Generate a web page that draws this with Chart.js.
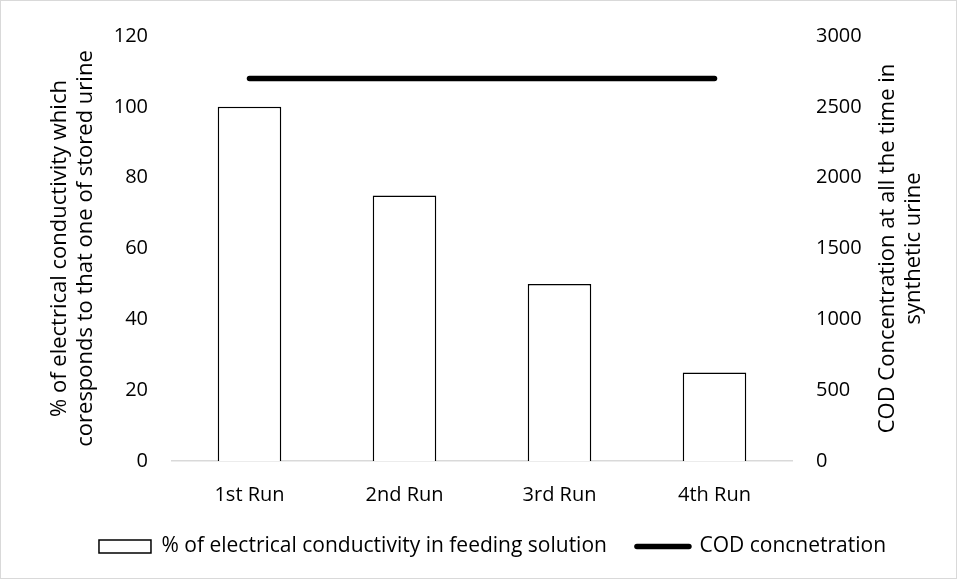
<!DOCTYPE html>
<html>
<head>
<meta charset="utf-8">
<script src="https://cdn.jsdelivr.net/npm/chart.js@4"></script>
<style>
  html, body { margin: 0; padding: 0; background: #fff; }
  #wrap { position: relative; width: 957px; height: 579px; }
  #frame { position: absolute; left: 0; top: 0; width: 955px; height: 577px; border: 1px solid #d9d9d9; pointer-events: none; }
</style>
</head>
<body>
<div id="wrap">
  <canvas id="myChart" width="957" height="579"></canvas>
  <div id="frame"></div>
</div>
<script>
const runs = ['1st Run', '2nd Run', '3rd Run', '4th Run'];
const conductivity = [100, 75, 50, 25];
const codConcentration = [2700, 2700, 2700, 2700];
const leftTitle = ['% of electrical conductivity which', 'coresponds to that one of stored urine'];
const rightTitle = ['COD Concentration at all the time in', 'synthetic urine'];

const FONT = "'Open Sans', sans-serif";

// right axis title reads bottom-to-top like the left one
const rightTitlePlugin = {
  id: 'rightTitle',
  afterDraw(chart) {
    const ctx = chart.ctx;
    const area = chart.chartArea;
    ctx.save();
    ctx.translate(888, (area.top + area.bottom) / 2);
    ctx.rotate(-Math.PI / 2);
    ctx.font = "22px " + FONT;
    ctx.fillStyle = '#000';
    ctx.textAlign = 'center';
    ctx.textBaseline = 'middle';
    for (let i = 0; i < rightTitle.length; i++) {
      ctx.fillText(rightTitle[i], 0, i * 26);
    }
    ctx.restore();
  }
};

new Chart(document.getElementById('myChart'), {
  type: 'bar',
  data: {
    labels: runs,
    datasets: [{
      label: '% of electrical conductivity in feeding solution',
      data: conductivity,
      backgroundColor: '#ffffff',
      borderColor: '#000000',
      borderWidth: 1.5,
      barPercentage: 0.41,
      categoryPercentage: 1,
      yAxisID: 'y',
      order: 2
    }, {
      type: 'line',
      label: 'COD concnetration',
      data: codConcentration,
      borderColor: '#000000',
      backgroundColor: '#000000',
      borderWidth: 5.5,
      borderCapStyle: 'round',
      pointRadius: 0,
      yAxisID: 'y2',
      order: 1
    }]
  },
  options: {
    responsive: false,
    animation: false,
    layout: { padding: { top: 35, bottom: 12, left: 28, right: 0 } },
    plugins: {
      tooltip: { enabled: false },
      legend: {
        position: 'bottom',
        labels: {
          usePointStyle: true,
          pointStyleWidth: 52,
          boxHeight: 13,
          padding: 30,
          color: '#000',
          font: { family: FONT, size: 21 },
          generateLabels(chart) {
            return chart.data.datasets.map((ds, i) => ({
              text: ds.label,
              fillStyle: ds.backgroundColor,
              strokeStyle: ds.borderColor,
              lineWidth: ds.type === 'line' ? 5.5 : 1.5,
              lineCap: ds.type === 'line' ? 'round' : 'butt',
              pointStyle: ds.type === 'line' ? 'line' : 'rect',
              fontColor: '#000',
              hidden: false,
              datasetIndex: i
            }));
          }
        }
      }
    },
    scales: {
      x: {
        grid: { display: false, drawTicks: false },
        border: { display: true, color: '#d9d9d9', width: 1.5 },
        ticks: { color: '#000', padding: 22, font: { family: FONT, size: 20 } },
        afterFit(scale) { scale.height = 45; }
      },
      y: {
        position: 'left',
        min: 0,
        max: 120,
        grid: { display: false, drawTicks: false },
        border: { display: false },
        ticks: { stepSize: 20, color: '#000', padding: 24, font: { family: FONT, size: 20 } },
        title: {
          display: true,
          text: leftTitle,
          color: '#000',
          font: { family: FONT, size: 22, lineHeight: 1.18 },
          padding: { top: 19, bottom: 0 }
        },
        afterFit(scale) { scale.width = 144; }
      },
      y2: {
        position: 'right',
        min: 0,
        max: 3000,
        grid: { display: false, drawTicks: false },
        border: { display: false },
        ticks: { stepSize: 500, color: '#000', padding: 24, format: { useGrouping: false }, font: { family: FONT, size: 20 } },
        afterFit(scale) { scale.width = 165; }
      }
    }
  },
  plugins: [rightTitlePlugin]
});
</script>
</body>
</html>
